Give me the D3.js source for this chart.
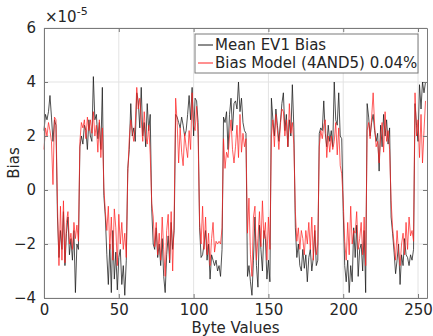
<!DOCTYPE html>
<html>
<head>
<meta charset="utf-8">
<script src="https://cdn.jsdelivr.net/npm/d3@7"></script>
<style>
  body { margin: 0; background: #fff; }
  text { font-family: "DejaVu Sans", sans-serif; fill: #262626; }
</style>
</head>
<body>
<div id="chart"></div>
<script>
// values are in units of 1e-5 (axis shows the x10^-5 multiplier)
const meanBias = [
  2.2, 2.8, 2.6, 2.9, 3.5, 2.7, 1.8, 2.6, 2.4, -1.0, -2.5, -1.5, -2.2, -0.8, -2.8, -1.6,
  -1.0, -2.4, -1.8, -2.6, -1.5, -3.8, -2.0, -2.2, 1.6, 2.0, 1.7, 2.4, 2.2, 1.5, 2.6, 2.0,
  1.8, 4.2, 2.6, 2.8, 1.9, 2.5, 1.5, 3.8, -0.2, -1.0, -2.4, -3.5, -2.0, -3.8, -1.5, -3.3,
  -2.3, -3.7, -2.5, -2.2, -3.5, -2.8, -3.9, -2.6, 0.8, 1.5, 3.2, 2.0, 2.3, 1.8, 3.6, 3.3,
  2.3, 3.8, 2.0, 2.5, 1.6, 3.2, 2.2, 2.8, -0.7, -2.0, -2.2, -1.4, -2.5, -2.0, -2.8, -1.8,
  -3.2, -3.8, -2.4, -1.7, -2.7, -1.2, -2.2, -1.5, 2.8, 2.7, 2.5, 2.3, 2.7, 2.4, 2.0, 2.2,
  2.8, 3.5, 2.6, 3.8, 2.0, 3.4, 3.3, 2.5, -1.4, -2.5, -2.4, -2.0, -1.5, -2.6, -2.0, -3.3,
  -2.4, -2.6, -2.8, -2.6, -3.0, -2.8, -3.2, -2.2, 2.7, 2.5, 2.9, 1.5, 2.8, 3.4, 2.2, 3.2,
  3.3, 3.0, 4.0, 2.9, 3.4, 2.5, 2.2, 2.1, -3.2, -2.8, -3.4, -3.9, -2.6, -1.0, -2.8, -3.6,
  -1.3, -2.2, -3.0, -1.5, -1.8, -3.3, -2.6, -3.4, 3.4, 2.6, 2.0, 3.0, 2.4, 1.8, 2.5, 3.2,
  3.6, 2.2, 2.8, 1.6, 2.6, 2.0, 3.9, 2.3, -1.4, -2.5, -2.0, -2.8, -3.0, -2.2, -2.9, -2.4,
  -3.4, -2.5, -2.2, -3.0, -2.5, -1.5, -2.8, -2.6, 2.1, 2.3, 2.2, 3.3, 2.1, 1.6, 2.4, 1.8,
  2.2, 1.6, 4.0, 2.6, 2.4, 3.6, 2.0, 1.9, -0.8, -2.8, -3.4, -2.6, -3.8, -2.8, -3.4, -1.4,
  -2.5, -1.3, -3.2, -2.2, -2.0, -3.0, -1.5, -3.8, 3.2, 2.7, 2.0, 2.5, 2.8, 2.2, 1.8, 2.1,
  0.7, 2.4, 1.6, 2.8, 2.0, 2.6, 1.7, 2.3, -1.0, -1.6, -2.3, -3.1, -2.6, -2.0, -3.5, -2.4,
  -2.8, -1.8, -2.4, -2.5, -2.8, -2.4, -2.6, -2.2, 3.2, 2.4, 1.8, 3.9, 3.0, 4.0, 3.6, 4.0
];
const modelBias = [
  1.5, 2.3, 2.0, 2.5, 2.2, 1.8, 0.2, 2.7, 2.6, -0.5, -2.8, -0.6, -2.6, -0.4, -2.7, -1.2,
  -0.8, -2.0, -1.6, -2.2, -1.2, -1.8, -1.3, -1.9, 1.8, 2.5, 2.3, 2.6, 1.9, 2.7, 2.2, 2.6,
  2.1, 2.9, 2.0, 2.4, 1.4, 2.6, 1.2, 2.3, 0.1, -0.8, -1.5, -0.6, -2.2, -1.0, -2.6, -0.7,
  -1.4, -2.8, -0.9, -2.0, -1.2, -2.2, -1.6, -2.5, 0.6, 1.9, 2.6, 2.2, 1.8, 2.4, 3.8, 3.0,
  3.4, 2.6, 1.8, 2.9, 2.0, 1.7, 2.4, 1.3, -0.5, -1.0, -2.1, -1.2, -2.4, -1.6, -2.6, -1.0,
  -2.2, -3.2, -1.5, -0.9, -2.6, -0.8, -3.0, -1.0, 3.4, 2.5, 1.0, 2.3, 1.4, 0.9, 2.1, 1.6,
  1.2, 2.2, 1.5, 3.6, 2.4, 2.2, 3.1, 2.0, -1.2, -2.0, -0.6, -2.2, -1.0, -2.4, -1.6, -2.8,
  -1.8, -1.2, -2.3, -1.9, -2.0, -1.9, -2.0, -1.4, 1.9, 0.8, 1.4, 1.2, 2.0, 2.6, 1.5, 1.0,
  1.6, 2.4, 1.2, 2.8, 1.4, 2.1, 1.6, 1.9, -1.6, -0.3, -2.4, -3.2, -1.0, -0.6, -2.6, -1.8,
  -0.8, -2.1, -0.4, -1.8, -1.2, -2.6, -1.0, -2.2, 2.0, 2.6, 1.6, 2.8, 2.2, 1.5, 2.4, 3.0,
  2.9, 2.0, 2.6, 1.6, 3.2, 2.1, 2.5, 1.7, -0.8, -1.9, -1.4, -2.2, -1.5, -1.8, -2.4, -1.5,
  -2.0, -1.2, -2.2, -1.0, -2.6, -1.3, -2.4, -2.0, 1.6, 2.2, 1.9, 2.4, 2.6, 1.2, 2.0, 1.4,
  2.0, 1.5, 1.8, 2.5, 1.3, 2.3, 0.9, 0.6, -0.4, -1.9, -2.6, -1.2, -2.4, -0.6, -2.0, -1.5,
  -1.6, -0.8, -2.2, -1.8, -1.2, -2.4, -1.0, -2.8, 2.2, 2.5, 1.9, 2.7, 3.6, 2.4, 1.6, 1.8,
  1.0, 2.0, 2.5, 1.4, 2.9, 1.8, 2.2, 1.5, -0.4, -1.4, -2.0, -2.6, -1.5, -2.3, -2.8, -2.0,
  -1.6, -2.4, -1.2, -2.2, -1.0, -1.7, -1.5, -1.9, 3.6, 2.0, 2.6, 1.2, 2.8, 1.0, 2.2, 3.3
];
const xTicks = [0, 50, 100, 150, 200, 250];
const yTicks = [-4, -2, 0, 2, 4, 6];
const seriesNames = ["Mean EV1 Bias", "Bias Model (4AND5) 0.04%"];
const seriesColors = ["#1a1a1a", "#ff2020"];

const width = 433, height = 336;
const margin = { top: 28, right: 6, bottom: 38, left: 44 };
const innerW = width - margin.left - margin.right;
const innerH = height - margin.top - margin.bottom;

const svg = d3.select("#chart").append("svg")
  .attr("width", width)
  .attr("height", height);

const g = svg.append("g")
  .attr("transform", `translate(${margin.left},${margin.top})`);

const x = d3.scaleLinear().domain([0, 256]).range([0, innerW]);
const y = d3.scaleLinear().domain([-4, 6]).range([innerH, 0]);

// grid
g.append("g").selectAll("line")
  .data(xTicks)
  .join("line")
  .attr("x1", d => x(d)).attr("x2", d => x(d))
  .attr("y1", 0).attr("y2", innerH)
  .attr("stroke", "#e3e3e3");
g.append("g").selectAll("line")
  .data(yTicks)
  .join("line")
  .attr("x1", 0).attr("x2", innerW)
  .attr("y1", d => y(d)).attr("y2", d => y(d))
  .attr("stroke", "#e3e3e3");

// series
const line = d3.line()
  .x((d, i) => x(i))
  .y(d => y(d));

[meanBias, modelBias].forEach((data, k) => {
  g.append("path")
    .datum(data)
    .attr("fill", "none")
    .attr("stroke", seriesColors[k])
    .attr("stroke-width", 0.9)
    .attr("stroke-opacity", k == 0 ? 0.85 : 0.8)
    .attr("d", line);
});

// axes (ticks pointing inward, MATLAB style)
g.append("g")
  .attr("transform", `translate(0,${innerH})`)
  .call(d3.axisBottom(x).tickValues(xTicks).tickSizeInner(-4).tickSizeOuter(0).tickPadding(6));
g.append("g")
  .call(d3.axisLeft(y).tickValues(yTicks).tickSizeInner(-4).tickSizeOuter(0).tickPadding(8));
g.append("g")
  .call(d3.axisTop(x).tickValues(xTicks).tickSizeInner(-4).tickSizeOuter(0).tickFormat(""));
g.append("g")
  .attr("transform", `translate(${innerW},0)`)
  .call(d3.axisRight(y).tickValues(yTicks).tickSizeInner(-4).tickSizeOuter(0).tickFormat(""));

g.selectAll(".domain").attr("stroke", "#7a7a7a");
g.selectAll(".tick line").attr("stroke", "#7a7a7a");
g.selectAll(".tick text")
  .style("font-family", "DejaVu Sans, sans-serif")
  .style("font-size", "15px")
  .attr("fill", "#262626");

// exponent label
const expo = svg.append("text")
  .attr("x", margin.left + 1)
  .attr("y", 22)
  .style("font-size", "15px");
expo.append("tspan").text("×10");
expo.append("tspan").attr("dy", -7).style("font-size", "11px").text("-5");

// axis titles
svg.append("text")
  .attr("transform", `translate(19,${margin.top + innerH / 2}) rotate(-90)`)
  .attr("text-anchor", "middle")
  .style("font-size", "15px")
  .text("Bias");
svg.append("text")
  .attr("x", margin.left + innerW / 2)
  .attr("y", 333)
  .attr("text-anchor", "middle")
  .style("font-size", "15px")
  .text("Byte Values");

// legend
const legend = svg.append("g").attr("transform", "translate(195,34)");
legend.append("rect")
  .attr("width", 223).attr("height", 39)
  .attr("fill", "#fff")
  .attr("stroke", "#7a7a7a");
seriesNames.forEach((name, k) => {
  const ly = 11 + k * 18;
  legend.append("line")
    .attr("x1", 3).attr("x2", 18)
    .attr("y1", ly).attr("y2", ly)
    .attr("stroke", seriesColors[k]);
  legend.append("text")
    .attr("x", 20).attr("y", ly + 5)
    .style("font-size", "15px")
    .text(name);
});
</script>
</body>
</html>
